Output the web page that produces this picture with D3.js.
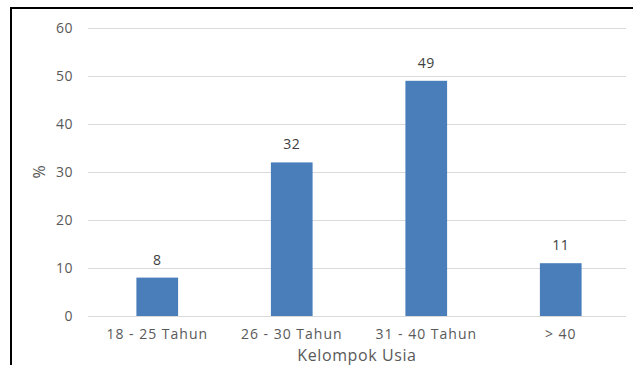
<!DOCTYPE html>
<html><head><meta charset="utf-8">
<script src="https://cdn.jsdelivr.net/npm/d3@7"></script>
<style>html,body{margin:0;padding:0;background:#fff;}svg{display:block;}</style>
</head><body>
<svg id="c" width="633" height="365"></svg>
<script>
const categories = ["18 - 25 Tahun", "26 - 30 Tahun", "31 - 40 Tahun", "> 40"];
const values = [8, 32, 49, 11];
const yTicks = [0, 10, 20, 30, 40, 50, 60];
const xTitle = "Kelompok Usia";
const yTitle = "%";

(function () {
const svg = d3.select("#c");
const W = 633, H = 365;
const mLeft = 88, mRight = 626, mTop = 28, mBottom = 316;
const font = "'Open Sans', 'Segoe UI', sans-serif";
const textColor = "#595959";

svg.append("rect").attr("width", W).attr("height", H).attr("fill", "#fff");

const x = d3.scaleBand().domain(categories).range([mLeft + 2, mRight + 2]).paddingInner(0.69).paddingOuter(0.345);
const y = d3.scaleLinear().domain([0, 60]).range([mBottom, mTop]);

// gridlines
svg.append("g").selectAll("line").data(yTicks).join("line")
  .attr("x1", mLeft).attr("x2", mRight)
  .attr("y1", d => y(d) + 0.5).attr("y2", d => y(d) + 0.5)
  .attr("stroke", "#d9d9d9").attr("stroke-width", 1);

// y axis labels
const yAxis = d3.axisLeft(y).tickValues(yTicks).tickSize(0).tickPadding(0);
const gy = svg.append("g").attr("transform", `translate(${mLeft - 15},0)`).call(yAxis);
gy.select(".domain").remove();
gy.selectAll("text").attr("fill", textColor).attr("font-family", font).attr("font-size", 14).attr("letter-spacing", 0.5);

// x axis labels
const xAxis = d3.axisBottom(x).tickSize(0).tickPadding(0);
const gx = svg.append("g").attr("transform", `translate(0,${mBottom + 13})`).call(xAxis);
gx.select(".domain").remove();
gx.selectAll("text").attr("fill", textColor).attr("font-family", font).attr("font-size", 14).attr("letter-spacing", 1);

// bars
svg.append("g").selectAll("rect").data(values).join("rect")
  .attr("x", (d, i) => x(categories[i]))
  .attr("width", x.bandwidth())
  .attr("y", d => y(d))
  .attr("height", d => y(0) - y(d))
  .attr("fill", "#4a7ebb");

// value labels
svg.append("g").selectAll("text").data(values).join("text")
  .attr("x", (d, i) => x(categories[i]) + x.bandwidth() / 2)
  .attr("y", d => y(d) - 13)
  .attr("text-anchor", "middle")
  .attr("fill", "#404040").attr("font-family", font).attr("font-size", 14).attr("letter-spacing", 0.5)
  .text(d => d);

// axis titles
svg.append("text").attr("x", (mLeft + mRight) / 2).attr("y", 361)
  .attr("text-anchor", "middle").attr("fill", textColor)
  .attr("font-family", font).attr("font-size", 16).attr("letter-spacing", 0.6).text(xTitle);
svg.append("text").attr("transform", `translate(45,${(mTop + mBottom) / 2}) rotate(-90)`)
  .attr("text-anchor", "middle").attr("fill", textColor)
  .attr("font-family", font).attr("font-size", 16).text(yTitle);

// frame lines (top and left)
svg.append("line").attr("x1", 10).attr("x2", W).attr("y1", 8).attr("y2", 8).attr("stroke", "#000").attr("stroke-width", 2);
svg.append("line").attr("x1", 11).attr("x2", 11).attr("y1", 7).attr("y2", H).attr("stroke", "#000").attr("stroke-width", 2);
})();
</script>
</body></html>
